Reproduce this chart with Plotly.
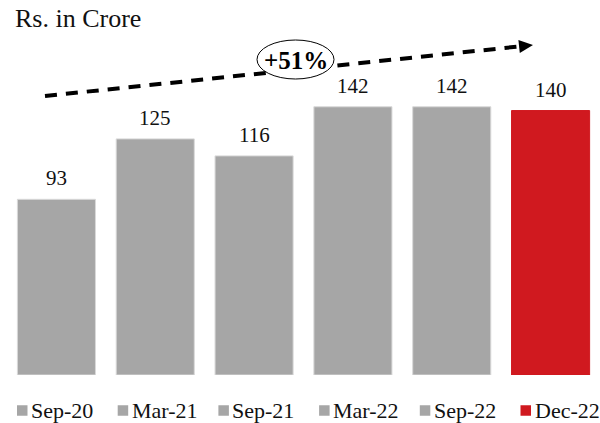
import plotly.graph_objects as go

categories = ["Sep-20", "Mar-21", "Sep-21", "Mar-22", "Sep-22", "Dec-22"]
values = [93, 125, 116, 142, 142, 140]
colors = ["#a6a6a6", "#a6a6a6", "#a6a6a6", "#a6a6a6", "#a6a6a6", "#d0191f"]
edge_colors = ["#d9d9d9", "#d9d9d9", "#d9d9d9", "#d9d9d9", "#d9d9d9", "#d0191f"]
growth_label = "+51%"
unit_label = "Rs. in Crore"

W, H = 600, 423
ML, MR, MT, MB = 7, 0, 0, 48
PW, PH = W - ML - MR, H - MT - MB
FONT = "Liberation Serif, Times New Roman, serif"


def px(x):
    return (x - ML) / PW


def py(y):
    return (H - MB - y) / PH


fig = go.Figure()
for cat, val, col, ec in zip(categories, values, colors, edge_colors):
    fig.add_trace(go.Bar(
        x=[cat], y=[val], name=cat,
        marker=dict(color=col, line=dict(color=ec, width=1)),
        hoverinfo="x+y", showlegend=False,
    ))

annotations = []
shapes = []
for cat, val in zip(categories, values):
    annotations.append(dict(
        x=cat, y=val, xref="x", yref="y", text=str(val), showarrow=False,
        yanchor="bottom", yshift=7, font=dict(family=FONT, size=21, color="#111"),
    ))

annotations.append(dict(
    x=px(13), y=py(19), xref="paper", yref="paper", text=unit_label,
    showarrow=False, xanchor="left", yanchor="middle",
    font=dict(family=FONT, size=26, color="#111"),
))
annotations.append(dict(
    x=px(295.5), y=py(60), xref="paper", yref="paper", text="<b>" + growth_label + "</b>",
    showarrow=False, xanchor="center", yanchor="middle",
    font=dict(family=FONT, size=25, color="#000"),
))

# legend (squares + labels), laid out along the bottom
LEG_X0, LEG_STEP, LEG_Y, SQ = 17, 100.7, 410.5, 10.5
for i, (cat, col) in enumerate(zip(categories, colors)):
    lx = LEG_X0 + i * LEG_STEP
    shapes.append(dict(type="rect", xref="paper", yref="paper",
                       x0=px(lx), x1=px(lx + SQ), y0=py(LEG_Y + SQ / 2), y1=py(LEG_Y - SQ / 2),
                       fillcolor=col, line=dict(width=0), layer="above"))
    annotations.append(dict(
        x=px(lx + SQ + 1.5), y=py(LEG_Y), xref="paper", yref="paper", text=cat,
        showarrow=False, xanchor="left", yanchor="middle",
        font=dict(family=FONT, size=22, color="#111"),
    ))

# trend arrow (dashed) and head
x0, y0 = 45, 96
tip = (533, 45)
base = (519.1, 46.45)
b1 = (519.8, 52.9)
b2 = (518.4, 40.0)
shapes += [
    dict(type="line", xref="paper", yref="paper",
         x0=px(x0), y0=py(y0), x1=px(base[0]), y1=py(base[1]),
         line=dict(color="#000", width=4, dash="12px,9px"), layer="above"),
    dict(type="path", xref="paper", yref="paper",
         path=f"M{px(tip[0])},{py(tip[1])} L{px(b1[0])},{py(b1[1])} L{px(b2[0])},{py(b2[1])} Z",
         fillcolor="#000", line=dict(color="#000", width=0), layer="above"),
    dict(type="circle", xref="paper", yref="paper",
         x0=px(257), x1=px(334), y0=py(79), y1=py(40),
         fillcolor="#fff", line=dict(color="#000", width=1), layer="above"),
]

fig.update_layout(
    width=W, height=H,
    margin=dict(l=ML, r=MR, t=MT, b=MB, pad=0, autoexpand=False),
    paper_bgcolor="#fff", plot_bgcolor="#fff",
    barmode="overlay", bargap=0.21,
    showlegend=False,
    xaxis=dict(showticklabels=False, showgrid=False, zeroline=False, showline=False,
               ticks="", categoryorder="array", categoryarray=categories),
    yaxis=dict(range=[0, PH / 1.889], showticklabels=False, showgrid=False,
               zeroline=False, showline=False, ticks=""),
    annotations=annotations, shapes=shapes,
    font=dict(family=FONT),
)

fig.write_html("out.html", config={"displayModeBar": False},
               post_script="document.body.style.margin='0px';")
